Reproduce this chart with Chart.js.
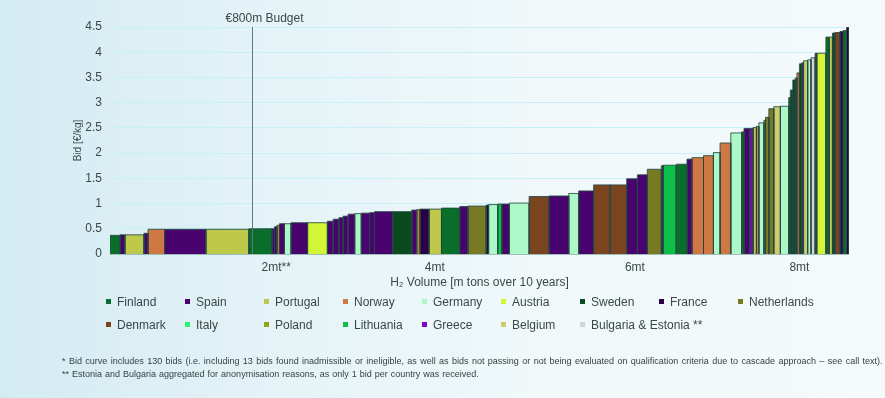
<!DOCTYPE html>
<html>
<head>
<meta charset="utf-8">
<script src="https://cdn.jsdelivr.net/npm/chart.js@4.4.1/dist/chart.umd.min.js"></script>
<style>
  html, body { margin: 0; padding: 0; }
  #wrap {
    position: relative; width: 885px; height: 398px; overflow: hidden;
    background: linear-gradient(90deg, #d3ebf2 0%, #e4f3f7 30%, #f0f8fa 60%, #f5fafc 100%);
    font-family: "Liberation Sans", Arial, sans-serif; color: #3b4848;
  }
  #bidChart { position: absolute; left: 0; top: 0; }
  .leg { position: absolute; font-size: 12px; line-height: 14px; white-space: nowrap; }
  .leg i { display: inline-block; width: 5px; height: 5px; margin-right: 6px; vertical-align: 2px; }
  .note { position: absolute; left: 62px; font-size: 9px; white-space: nowrap; color: #34403f; }
</style>
</head>
<body>
<div id="wrap">
  <canvas id="bidChart" width="885" height="398"></canvas>
  <div id="legend"></div>
  <div class="note" style="top:356px; word-spacing:0.9px">* Bid curve includes 130 bids (i.e. including 13 bids found inadmissible or ineligible, as well as bids not passing or not being evaluated on qualification criteria due to cascade approach – see call text).</div>
  <div class="note" style="top:369px; word-spacing:0.5px">** Estonia and Bulgaria aggregated for anonymisation reasons, as only 1 bid per country was received.</div>
</div>
<script>
// countries + colours (legend order)
const countries = ['Finland', 'Spain', 'Portugal', 'Norway', 'Germany', 'Austria', 'Sweden', 'France', 'Netherlands',
  'Denmark', 'Italy', 'Poland', 'Lithuania', 'Greece', 'Belgium', 'Bulgaria & Estonia **'];
const countryColors = ['#0a6e2b', '#48036e', '#bec84a', '#cf7843', '#aef7c8', '#d2f535', '#0b4a1f', '#2b0046', '#777a23',
  '#7b4421', '#2bf56b', '#8ea514', '#0cc047', '#7a06c9', '#cccc6c', '#d4d4d4'];

// bids sorted by price: price [EUR/kg], volume [mt over 10 years], country
const bidPrice = [0.37, 0.38, 0.38, 0.41, 0.49, 0.49, 0.49, 0.5, 0.5, 0.54,
  0.57, 0.6, 0.6, 0.62, 0.62, 0.65, 0.69, 0.72, 0.75, 0.79,
  0.8, 0.81, 0.82, 0.84, 0.84, 0.87, 0.88, 0.89, 0.89, 0.91,
  0.94, 0.95, 0.97, 0.98, 0.99, 0.99, 1.01, 1.14, 1.15, 1.2,
  1.25, 1.37, 1.37, 1.49, 1.57, 1.68, 1.75, 1.76, 1.78, 1.88,
  1.91, 1.95, 2.01, 2.2, 2.4, 2.42, 2.49, 2.49, 2.51, 2.53,
  2.6, 2.65, 2.71, 2.88, 2.92, 2.93, 3.1, 3.25, 3.45, 3.49,
  3.59, 3.77, 3.79, 3.83, 3.85, 3.89, 3.98, 3.98, 4.3, 4.3,
  4.38, 4.39, 4.41, 4.43, 4.49];
const bidVolume = [0.12, 0.06, 0.23, 0.05, 0.2, 0.5, 0.52, 0.28, 0.03, 0.03,
  0.03, 0.06, 0.08, 0.2, 0.24, 0.07, 0.07, 0.05, 0.06, 0.08,
  0.08, 0.1, 0.06, 0.22, 0.23, 0.06, 0.04, 0.11, 0.15, 0.22,
  0.1, 0.22, 0.03, 0.11, 0.05, 0.09, 0.24, 0.24, 0.24, 0.12,
  0.18, 0.2, 0.2, 0.13, 0.12, 0.17, 0.02, 0.16, 0.13, 0.06,
  0.14, 0.12, 0.08, 0.13, 0.13, 0.03, 0.07, 0.04, 0.04, 0.03,
  0.06, 0.02, 0.04, 0.06, 0.08, 0.1, 0.02, 0.03, 0.03, 0.02,
  0.03, 0.03, 0.02, 0.05, 0.04, 0.05, 0.02, 0.11, 0.04, 0.04,
  0.03, 0.06, 0.04, 0.04, 0.03];
const bidCountry = ['Finland', 'Spain', 'Portugal', 'Spain', 'Norway', 'Spain', 'Portugal', 'Finland', 'Spain', 'Spain',
  'Norway', 'Spain', 'Germany', 'Spain', 'Austria', 'Spain', 'Spain', 'Spain', 'Spain', 'Spain',
  'Germany', 'Spain', 'Spain', 'Spain', 'Sweden', 'Spain', 'Norway', 'France', 'Portugal', 'Finland',
  'Spain', 'Netherlands', 'France', 'Germany', 'Lithuania', 'Spain', 'Germany', 'Denmark', 'Spain', 'Germany',
  'Spain', 'Denmark', 'Denmark', 'Spain', 'Spain', 'Netherlands', 'Spain', 'Lithuania', 'Finland', 'Spain',
  'Norway', 'Norway', 'Germany', 'Norway', 'Germany', 'Finland', 'Spain', 'Greece', 'Portugal', 'Norway',
  'Germany', 'Netherlands', 'Netherlands', 'Netherlands', 'Belgium', 'Germany', 'Finland', 'Sweden', 'Sweden', 'Sweden',
  'Norway', 'Sweden', 'Greece', 'Belgium', 'Germany', 'Bulgaria & Estonia **', 'Spain', 'Austria', 'Finland', 'Portugal',
  'Sweden', 'Denmark', 'France', 'Finland', 'France'];

const xTickValues = [2.01, 3.93, 6.35, 8.34];
const xTickLabels = ['2mt**', '4mt', '6mt', '8mt'];
const budgetVolume = 1.72;
const budgetLabel = '€800m Budget';

// one closed step per bid
let cum = 0;
const datasets = bidPrice.map((p, i) => {
  const x0 = cum, x1 = cum + bidVolume[i];
  cum = x1;
  return {
    label: bidCountry[i],
    data: [{ x: x0, y: 0 }, { x: x0, y: p }, { x: x1, y: p }, { x: x1, y: 0 }],
    backgroundColor: countryColors[countries.indexOf(bidCountry[i])],
    borderColor: 'rgba(38,72,68,0.85)',
    borderWidth: 1,
    fill: 'origin',
    pointRadius: 0,
    tension: 0
  };
});
const totalVolume = cum;

const budgetLine = {
  id: 'budgetLine',
  afterDatasetsDraw(chart) {
    const { ctx, scales: { x, y } } = chart;
    const px = Math.round(x.getPixelForValue(budgetVolume)) + 0.5;
    ctx.save();
    ctx.strokeStyle = '#5b7b7a';
    ctx.lineWidth = 1;
    ctx.beginPath();
    ctx.moveTo(px, y.getPixelForValue(4.5));
    ctx.lineTo(px, y.getPixelForValue(0));
    ctx.stroke();
    ctx.fillStyle = '#3b4848';
    ctx.font = '12px "Liberation Sans", Arial, sans-serif';
    ctx.textAlign = 'center';
    ctx.textBaseline = 'middle';
    ctx.fillText(budgetLabel, px + 12, y.top - 8);
    ctx.restore();
  }
};

Chart.defaults.font.family = '"Liberation Sans", Arial, sans-serif';
Chart.defaults.color = '#3b4848';

new Chart(document.getElementById('bidChart'), {
  type: 'line',
  data: { datasets: datasets },
  options: {
    responsive: false,
    animation: false,
    layout: { padding: { left: 68, right: 36, top: 27, bottom: 104 } },
    plugins: { legend: { display: false }, tooltip: { enabled: false } },
    scales: {
      x: {
        type: 'linear',
        min: 0,
        max: totalVolume,
        grid: { display: false, drawTicks: false },
        border: { display: false },
        afterBuildTicks: (s) => { s.ticks = xTickValues.map(v => ({ value: v })); },
        afterFit: (s) => { s.height = 40; },
        ticks: {
          padding: 6,
          font: { size: 12 },
          maxRotation: 0,
          callback: (v, i) => xTickLabels[i]
        },
        title: {
          display: true,
          text: 'H₂ Volume [m tons over 10 years]',
          font: { size: 12 },
          padding: { top: 0, bottom: 4 }
        }
      },
      y: {
        min: 0,
        max: 4.5,
        grid: {
          drawTicks: false,
          color: (c) => c.tick.value === 0 ? '#9dbdbd' : '#c6f1f6'
        },
        border: { display: false },
        afterFit: (s) => { s.width = 42; },
        ticks: { stepSize: 0.5, padding: 8, font: { size: 12 }, callback: (v) => String(v) },
        title: {
          display: true,
          text: 'Bid [€/kg]',
          font: { size: 10 },
          padding: { top: 4, bottom: 0 }
        }
      }
    }
  },
  plugins: [budgetLine]
});

// legend, two rows in a fixed grid
const legendEl = document.getElementById('legend');
countries.forEach((name, i) => {
  const row = i < 9 ? 0 : 1;
  const col = row === 0 ? i : i - 9;
  const d = document.createElement('div');
  d.className = 'leg';
  d.style.left = (106 + col * 79) + 'px';
  d.style.top = (295 + row * 23) + 'px';
  d.innerHTML = '<i style="background:' + countryColors[i] + '"></i>' + name;
  legendEl.appendChild(d);
});
</script>
</body>
</html>
